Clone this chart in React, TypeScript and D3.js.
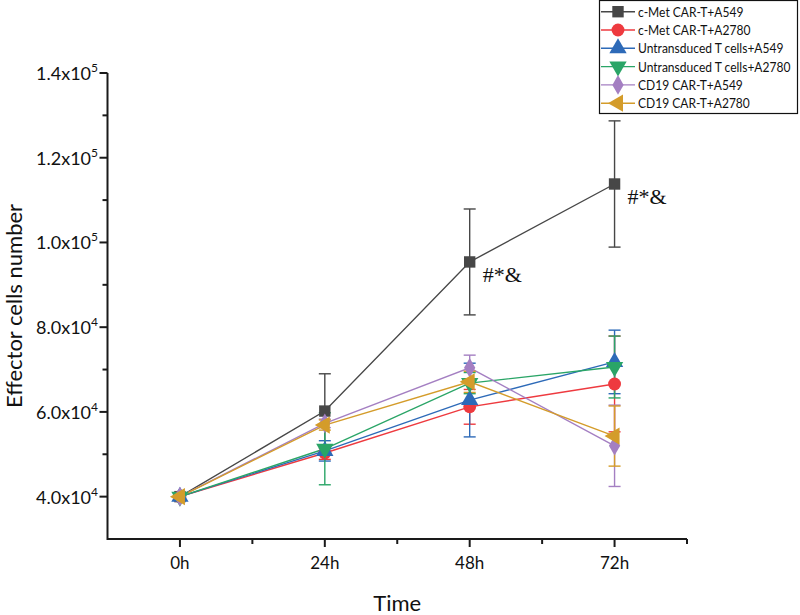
import React, { useEffect, useRef } from "react";
import * as d3 from "d3";

// time points on the x axis
const times = ["0h", "24h", "48h", "72h"];

// series names, as in the legend
const seriesNames = [
  "c-Met CAR-T+A549",
  "c-Met CAR-T+A2780",
  "Untransduced T cells+A549",
  "Untransduced T cells+A2780",
  "CD19 CAR-T+A549",
  "CD19 CAR-T+A2780",
];

// mean effector cell numbers
const cMetA549 = [40000, 60200, 95400, 113800];
const cMetA2780 = [40000, 50300, 61200, 66600];
const untA549 = [40000, 50800, 62800, 71800];
const untA2780 = [40000, 51300, 66800, 70600];
const cd19A549 = [40000, 57300, 70400, 52000];
const cd19A2780 = [40000, 56900, 67100, 54300];

// error bar half heights
const cMetA549Err = [0, 8800, 12500, 14900];
const cMetA2780Err = [0, 1500, 4100, 11300];
const untA549Err = [0, 2400, 8700, 7500];
const untA2780Err = [0, 8500, 2500, 7300];
const cd19A549Err = [0, 1000, 3000, 9600];
const cd19A2780Err = [0, 1200, 2500, 7100];

// significance marks on the c-Met CAR-T+A549 series
const markIndex = [2, 3];
const markText = "#*&";

// y axis ticks
const yTicks = [40000, 60000, 80000, 100000, 120000, 140000];
const yTickLabels = [
  ["4.0x10", "4"],
  ["6.0x10", "4"],
  ["8.0x10", "4"],
  ["1.0x10", "5"],
  ["1.2x10", "5"],
  ["1.4x10", "5"],
];

const colors = ["#474747", "#ee3a3f", "#2d6ab8", "#2aa567", "#a47fc2", "#d49c2a"];
const symbolKinds = ["square", "circle", "up", "down", "diamond", "left"];

const W = 800;
const H = 615;
const FONT = "Lato, 'Open Sans', sans-serif";

const symbolPath = (kind: string, size: number) => {
  if (kind === "square") return d3.symbol(d3.symbolSquare, size)()!;
  if (kind === "circle") return d3.symbol(d3.symbolCircle, size)()!;
  if (kind === "diamond") return d3.symbol(d3.symbolDiamond, size * 0.85)()!;
  return d3.symbol(d3.symbolTriangle, size)()!;
};
const symbolRotate = (kind: string) =>
  kind === "down" ? 180 : kind === "left" ? -90 : 0;

export default function App() {
  const svgRef = useRef<SVGSVGElement>(null);

  useEffect(() => {
    const svg = d3.select(svgRef.current);
    svg.selectAll("*").remove();

    const values = [cMetA549, cMetA2780, untA549, untA2780, cd19A549, cd19A2780];
    const errs = [cMetA549Err, cMetA2780Err, untA549Err, untA2780Err, cd19A549Err, cd19A2780Err];

    const x = d3.scaleLinear().domain([-0.5, times.length - 0.5]).range([107.5, 687]);
    const y = d3.scaleLinear().domain([30000, 140000]).range([539, 73]);

    // axes
    const axes = svg.append("g").attr("stroke", "#1a1a1a").attr("stroke-width", 2);
    axes.append("line").attr("x1", x(-0.5)).attr("x2", x(3.5)).attr("y1", y(30000)).attr("y2", y(30000));
    axes.append("line").attr("x1", x(-0.5)).attr("x2", x(-0.5)).attr("y1", y(30000) + 1).attr("y2", y(140000));

    // x ticks
    d3.range(-0.5, times.length, 0.5).forEach((t) => {
      const major = Number.isInteger(t);
      if (t === -0.5) return;
      axes.append("line")
        .attr("x1", x(t)).attr("x2", x(t))
        .attr("y1", y(30000)).attr("y2", y(30000) + (major ? 8 : 5));
    });
    svg.append("g")
      .selectAll("text")
      .data(times)
      .join("text")
      .attr("x", (_, i) => x(i))
      .attr("y", y(30000) + 30)
      .attr("text-anchor", "middle")
      .attr("font-family", FONT)
      .attr("font-size", 17)
      .attr("fill", "#111")
      .text((d) => d);

    // y ticks
    d3.range(30000, 140001, 10000).forEach((v) => {
      const major = yTicks.includes(v);
      if (v === 30000) return;
      axes.append("line")
        .attr("x1", x(-0.5)).attr("x2", x(-0.5) - (major ? 8 : 5))
        .attr("y1", y(v)).attr("y2", y(v));
    });
    const yl = svg.append("g")
      .selectAll("text")
      .data(yTicks)
      .join("text")
      .attr("x", 98)
      .attr("y", (d) => y(d) + 7)
      .attr("text-anchor", "end")
      .attr("font-family", FONT)
      .attr("font-size", 18)
      .attr("fill", "#111");
    yl.append("tspan").text((_, i) => yTickLabels[i][0]);
    yl.append("tspan")
      .attr("dy", -8)
      .attr("font-size", 12)
      .text((_, i) => yTickLabels[i][1]);

    // axis titles
    svg.append("text")
      .attr("x", (x(-0.5) + x(3.5)) / 2)
      .attr("y", 611)
      .attr("text-anchor", "middle")
      .attr("font-family", FONT)
      .attr("font-size", 22)
      .attr("fill", "#111")
      .text("Time");
    svg.append("text")
      .attr("transform", `translate(22, ${y(85000)}) rotate(-90)`)
      .attr("text-anchor", "middle")
      .attr("font-family", FONT)
      .attr("font-size", 22)
      .attr("fill", "#111")
      .text("Effector cells number");

    const line = d3.line<number>().x((_, i) => x(i)).y((d) => y(d));

    // lines
    values.forEach((vals, s) => {
      svg.append("path")
        .attr("d", line(vals))
        .attr("fill", "none")
        .attr("stroke", colors[s])
        .attr("stroke-width", 1.4);
    });

    // error bars
    values.forEach((vals, s) => {
      const g = svg.append("g").attr("stroke", colors[s]).attr("stroke-width", 1.4);
      vals.forEach((v, i) => {
        const e = errs[s][i];
        if (!e) return;
        const cx = x(i);
        g.append("line").attr("x1", cx).attr("x2", cx).attr("y1", y(v - e)).attr("y2", y(v + e));
        [v - e, v + e].forEach((c) => {
          g.append("line").attr("x1", cx - 6).attr("x2", cx + 6).attr("y1", y(c)).attr("y2", y(c));
        });
      });
    });

    // markers
    values.forEach((vals, s) => {
      svg.append("g")
        .selectAll("path")
        .data(vals)
        .join("path")
        .attr("d", symbolPath(symbolKinds[s], 130))
        .attr("transform", (d, i) => `translate(${x(i)},${y(d)}) rotate(${symbolRotate(symbolKinds[s])})`)
        .attr("fill", colors[s]);
    });

    // significance marks
    svg.append("g")
      .selectAll("text")
      .data(markIndex)
      .join("text")
      .attr("x", (i) => x(i) + 13)
      .attr("y", (i) => y(cMetA549[i]) + 20)
      .attr("font-family", "'Liberation Serif', serif")
      .attr("font-size", 22)
      .attr("fill", "#111")
      .text(markText);

    // legend
    const lg = svg.append("g").attr("transform", "translate(599, 0)");
    lg.append("rect")
      .attr("x", 0.5).attr("y", 0.5).attr("width", 198).attr("height", 113)
      .attr("fill", "#fff").attr("stroke", "#111").attr("stroke-width", 1.2);
    seriesNames.forEach((name, s) => {
      const ry = 11.7 + s * 18.3;
      lg.append("line").attr("x1", 2).attr("x2", 36).attr("y1", ry).attr("y2", ry)
        .attr("stroke", colors[s]).attr("stroke-width", 1.4);
      lg.append("path")
        .attr("d", symbolPath(symbolKinds[s], 130))
        .attr("transform", `translate(19,${ry}) rotate(${symbolRotate(symbolKinds[s])})`)
        .attr("fill", colors[s]);
      lg.append("text")
        .attr("transform", `translate(39,${ry + 5}) scale(0.86,1)`)
        .attr("font-family", FONT)
        .attr("font-size", 14)
        .attr("fill", "#111")
        .text(name);
    });
  }, []);

  return (
    <svg
      ref={svgRef}
      width={W}
      height={H}
      style={{ position: "absolute", left: 0, top: 0, background: "#fff" }}
    />
  );
}
